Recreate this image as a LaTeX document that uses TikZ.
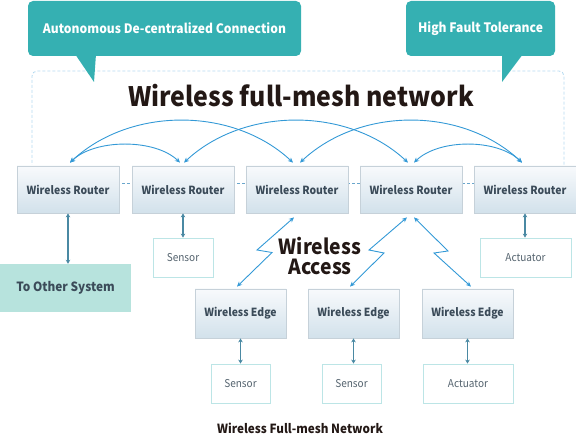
\documentclass[tikz,border=0pt]{standalone}
\usepackage{fontspec}
\setmainfont{Noto Sans CJK JP}[FakeStretch=0.93]
\usetikzlibrary{arrows.meta,calc}
\definecolor{tealc}{HTML}{35B0B2}
\definecolor{otherfill}{HTML}{B7E3DD}
\definecolor{leafborder}{HTML}{BCE5E6}
\definecolor{rborder}{HTML}{C6D1D9}
\definecolor{rtop}{HTML}{F8FAFC}
\definecolor{rbot}{HTML}{D2E1EB}
\definecolor{txt}{HTML}{3B4B59}
\definecolor{txttwo}{HTML}{55646F}
\definecolor{titlec}{HTML}{231815}
\definecolor{arcblue}{HTML}{3399D6}
\definecolor{linkc}{HTML}{4A89A3}
\definecolor{boxline}{HTML}{B4DAF0}
\definecolor{midline}{HTML}{6AA6CC}
\begin{document}
\begin{tikzpicture}[x=1pt,y=-1pt,
  router/.style={draw=rborder, line width=0.8pt, top color=rtop, bottom color=rbot,
    minimum width=102pt, minimum height=47pt, inner sep=0pt,
    font=\bfseries\fontsize{11.2}{13}\selectfont, text=txt},
  edgebox/.style={router, minimum width=91pt, minimum height=49pt},
  leaf/.style={draw=leafborder, line width=0.8pt, fill=white, minimum height=39pt,
    inner sep=0pt, font=\fontsize{10.8}{13}\selectfont, text=txttwo},
  callout/.style={fill=tealc, rounded corners=5pt, text=white, inner sep=0pt,
    minimum height=55pt, font=\bfseries\fontsize{13}{15}\selectfont},
  arc/.style={draw=arcblue, line width=0.9pt,
    {Stealth[length=5pt,width=4.5pt,inset=1.5pt]}-{Stealth[length=5pt,width=4.5pt,inset=1.5pt]}},
  link/.style={draw=linkc, line width=1.6pt,
    {Stealth[length=4pt,width=4.5pt]}-{Stealth[length=4pt,width=4.5pt]}}
]
\useasboundingbox (0,0) rectangle (576,438);

% dashed frame
\draw[boxline, line width=0.8pt, dash pattern=on 3pt off 2pt, rounded corners=5pt]
  (32,183) -- (32,71) -- (564,71) -- (564,183);
\draw[midline, line width=0.8pt, dash pattern=on 3pt off 2pt] (32,183) -- (564,183);

% callouts
\node[callout, minimum width=273pt] (c1) at (164.5,28.5) {Autonomous De-centralized Connection};
\fill[tealc] (75,54) -- (96,54) -- (94,82) -- cycle;
\node[callout, minimum width=149pt] (c2) at (480.5,28.5) {High Fault Tolerance};
\fill[tealc] (502,54) -- (523,54) -- (502,82) -- cycle;

% title
\node[anchor=base, inner sep=0pt, text=titlec, font=\bfseries\fontsize{26.8}{30}\selectfont]
  (title) at (301,107) {Wireless full-mesh network};

% routers
\node[router] (r1) at (68,189.5) {Wireless Router};
\node[router] (r2) at (183,189.5) {Wireless Router};
\node[router] (r3) at (297,189.5) {Wireless Router};
\node[router] (r4) at (411,189.5) {Wireless Router};
\node[router] (r5) at (525,189.5) {Wireless Router};

% leaves under routers
\node[fill=otherfill, minimum width=131pt, minimum height=48pt, inner sep=0pt,
  font=\bfseries\fontsize{12.7}{15}\selectfont, text=txt] (other) at (65.5,288) {To Other System};
\node[leaf, minimum width=60pt] (s1) at (183,257.5) {Sensor};
\node[leaf, minimum width=91pt] (a1) at (525.5,257.5) {Actuator};

% edges
\node[edgebox] (e1) at (240.5,313.5) {Wireless Edge};
\node[edgebox] (e2) at (353.5,313.5) {Wireless Edge};
\node[edgebox] (e3) at (467.5,313.5) {Wireless Edge};

\node[leaf, minimum width=59pt] (s2) at (240.5,383.5) {Sensor};
\node[leaf, minimum width=59pt] (s3) at (351.5,383.5) {Sensor};
\node[leaf, minimum width=90pt] (a2) at (468,383.5) {Actuator};

% wireless access label
\node[anchor=north, inner sep=0pt, align=center, text=titlec,
  font=\bfseries\fontsize{20.8}{20}\selectfont] (wa) at (320,237) {Wireless\\Access};

% footer
\node[anchor=base, inner sep=0pt, text=titlec, font=\bfseries\fontsize{12.6}{15}\selectfont]
  (foot) at (300,433) {Wireless Full-mesh Network};

% mesh arcs
\draw[arc] ([xshift=2pt,yshift=3pt]r1.north) .. controls +(25,-24) and +(-25,-24) .. ([xshift=-3pt,yshift=3pt]r2.north);
\draw[arc] ([xshift=2pt,yshift=3pt]r1.north) .. controls +(60,-56) and +(-60,-56) .. ([xshift=-4pt,yshift=3pt]r3.north);
\draw[arc] ([xshift=1pt,yshift=3pt]r2.north) .. controls +(60,-56) and +(-60,-56) .. ([xshift=-3pt,yshift=3pt]r4.north);
\draw[arc] ([xshift=3pt,yshift=3pt]r3.north) .. controls +(60,-56) and +(-60,-56) .. ([xshift=-3pt,yshift=3pt]r5.north);
\draw[arc] ([xshift=3pt,yshift=3pt]r4.north) .. controls +(25,-24) and +(-25,-24) .. ([xshift=-3pt,yshift=3pt]r5.north);

% wireless zigzags
\draw[arc] ([xshift=-3pt,yshift=-4pt]r3.south) -- (257,250) -- (272,252.5) -- ([xshift=-3.5pt,yshift=2pt]e1.north);
\draw[arc] ([xshift=-4pt,yshift=-4pt]r4.south) -- (369,250) -- (384,253) -- ([xshift=-3.5pt,yshift=2pt]e2.north);
\draw[arc] ([xshift=3pt,yshift=-4pt]r4.south) -- (448,251) -- (434,253) -- ([xshift=3.5pt,yshift=2pt]e3.north);

% wired links
\draw[link] (r1.south) -- (r1.south |- other.north);
\draw[link] (r2.south) -- (r2.south |- s1.north);
\draw[link] (r5.south) -- (r5.south |- a1.north);
\draw[link] (e1.south) -- (e1.south |- s2.north);
\draw[link] (e2.south) -- (e2.south |- s3.north);
\draw[link] (e3.south) -- (e3.south |- a2.north);
\end{tikzpicture}
\end{document}
